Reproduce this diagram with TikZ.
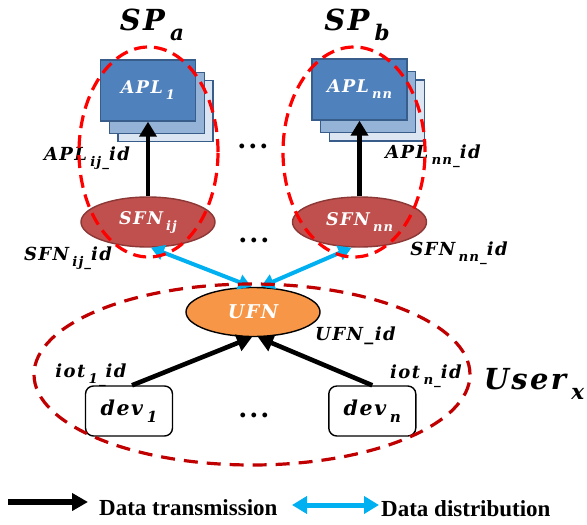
\documentclass[tikz,border=0pt]{standalone}
\usepackage{graphicx}
\usepackage{fontspec}
\newfontfamily\legendfont{Liberation Serif}
\newfontfamily\labfont{DejaVu Serif}[LetterSpace=8]
\newfontfamily\dotfont{DejaVu Serif}
\usetikzlibrary{arrows.meta,shapes.geometric}
\definecolor{aplfront}{HTML}{4F81BD}
\definecolor{aplborder}{HTML}{385D8A}
\definecolor{aplmid}{HTML}{95B3D7}
\definecolor{apllight}{HTML}{DCE6F2}
\definecolor{sfnfill}{HTML}{C0504D}
\definecolor{sfnborder}{HTML}{8C3836}
\definecolor{ufnfill}{HTML}{F79646}
\definecolor{groupred}{HTML}{FF0000}
\definecolor{userred}{HTML}{C00000}
\definecolor{distblue}{HTML}{00B0F0}
% lowered, reduced index after a name
\newcommand{\lowidx}[1]{\hspace{0.18em}\raisebox{-0.34em}{\scalebox{0.74}{#1}}}
\newcommand{\labsize}[1]{\fontsize{#1}{#1}\selectfont\labfont\bfseries\itshape}
\begin{document}
\begin{tikzpicture}[x=1pt,y=-1pt,
  lbl/.style={font=\labsize{18}, inner sep=0pt},
  biglbl/.style={font=\labsize{29}, inner sep=0pt},
  aplbox/.style={draw=aplborder, line width=1.4pt, minimum width=95pt, minimum height=61pt, inner sep=0pt},
  apltext/.style={text=white, font=\labsize{17.5}},
  fognode/.style={ellipse, line width=1.4pt, minimum width=134pt, minimum height=50pt, inner sep=0pt,
                  text=white, font=\labsize{17.5}},
  devbox/.style={draw=black, line width=1.4pt, rounded corners=8pt, minimum width=87pt, minimum height=50pt,
                 inner sep=0pt, font=\labsize{20.5}},
  dots/.style={inner sep=0pt, font=\fontsize{26}{26}\selectfont\dotfont\bfseries},
  group/.style={ellipse, draw=groupred, line width=3.2pt, dash pattern=on 13pt off 7pt, inner sep=0pt},
  usergroup/.style={ellipse, draw=userred, line width=3.2pt, dash pattern=on 14pt off 9pt, inner sep=0pt},
  sendarrow/.style={line width=4.6pt, -{Triangle[length=15pt,width=17pt]}},
  distarrow/.style={draw=distblue, line width=4pt, {Triangle[length=13pt,width=15pt]}-{Triangle[length=13pt,width=15pt]}},
  legendtext/.style={anchor=west, inner sep=0pt, font=\fontsize{23}{24}\selectfont\legendfont\bfseries}
]
\useasboundingbox (0,0) rectangle (587,525);

% service provider titles
\node[biglbl] (spa) at (152,25) {SP\lowidx{a}};
\node[biglbl] (spb) at (357,25) {SP\lowidx{b}};

% stacked application boxes of SP_a
\node[aplbox, fill=apllight] (apla3) at (165.5,111) {};
\node[aplbox, fill=aplmid] (apla2) at (157,103) {};
\node[aplbox, fill=aplfront, apltext] (apla) at (148,90.5) {APL\lowidx{1}};

% stacked application boxes of SP_b
\node[aplbox, fill=apllight] (aplb3) at (377,110.5) {};
\node[aplbox, fill=aplmid] (aplb2) at (368,102) {};
\node[aplbox, fill=aplfront, apltext] (aplb) at (359.5,89.5) {APL\lowidx{nn}};

% service fog nodes
\node[fognode, fill=sfnfill, draw=sfnborder] (sfna) at (148,222) {SFN\lowidx{ij}};
\node[fognode, fill=sfnfill, draw=sfnborder] (sfnb) at (359.5,222) {SFN\lowidx{nn}};

% user fog node and devices
\node[fognode, fill=ufnfill, draw=black, minimum height=49pt, font=\labsize{19}] (ufn) at (253,312) {UFN};
\node[devbox] (dev1) at (129,411) {dev\lowidx{1}};
\node[devbox] (devn) at (372.3,411) {dev\lowidx{n}};

% ellipsis marks
\node[dots] (dotsapl) at (253,146) {.\hspace{2pt}.\hspace{2pt}.};
\node[dots] (dotssfn) at (254,240) {.\hspace{2pt}.\hspace{2pt}.};
\node[dots] (dotsdev) at (254,415) {.\hspace{2pt}.\hspace{2pt}.};

% data transmission
\draw[sendarrow] (sfna.north) -- (apla.south);
\draw[sendarrow] (sfnb.north) -- (aplb.south);
\draw[sendarrow] ([xshift=3pt]dev1.north) -- ([xshift=-1pt]ufn.south);
\draw[sendarrow] (devn.north) -- ([xshift=5pt]ufn.south);

% data distribution
\draw[distarrow] ([xshift=3pt]sfna.south) -- ([xshift=-1.5pt]ufn.north);
\draw[distarrow] ([xshift=-8pt]sfnb.south) -- ([xshift=8pt]ufn.north);

% identifiers
\node[lbl] (aplaid) at (87,158) {APL\lowidx{ij\_}id};
\node[lbl] (aplbid) at (433,156) {APL\lowidx{nn\_}id};
\node[lbl] (sfnaid) at (68,258) {SFN\lowidx{ij\_}id};
\node[lbl] (sfnbid) at (459,253) {SFN\lowidx{nn\_}id};
\node[lbl] (ufnid) at (355.5,336) {UFN\_id};
\node[lbl] (iot1id) at (91,375) {iot\lowidx{1\_}id};
\node[lbl] (iotnid) at (426,376) {iot\lowidx{n\_}id};
\node[biglbl] (userx) at (534,384) {User\lowidx{x}};

% groupings
\node[group, minimum width=139pt, minimum height=210pt] (groupa) at (148.5,152) {};
\node[group, minimum width=142pt, minimum height=210pt] (groupb) at (354,152) {};
\node[usergroup, minimum width=436pt, minimum height=181pt] (usergrp) at (252,374.5) {};

% legend
\coordinate (lt1) at (8,502);
\coordinate (lt2) at (88,502);
\draw[line width=5.5pt, -{Triangle[length=16pt,width=17pt]}] (lt1) -- (lt2);
\node[legendtext] (lttext) at (99,508) {Data transmission};
\coordinate (ld1) at (292,505);
\coordinate (ld2) at (379,505);
\draw[draw=distblue, line width=5pt, {Triangle[length=15pt,width=17pt]}-{Triangle[length=15pt,width=17pt]}] (ld1) -- (ld2);
\node[legendtext] (ldtext) at (381,509) {Data distribution};
\end{tikzpicture}
\end{document}
